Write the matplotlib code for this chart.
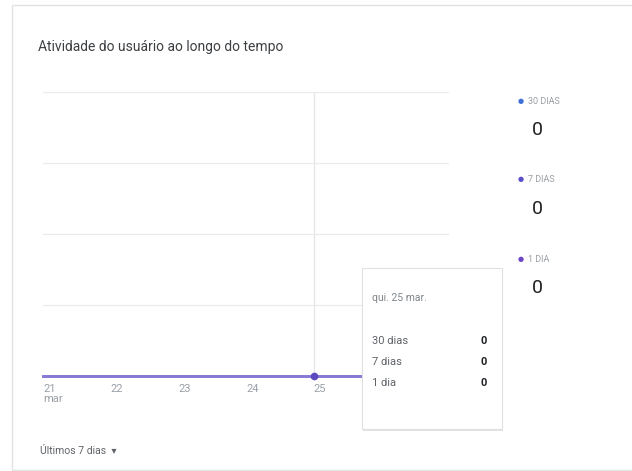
import matplotlib.pyplot as plt
from matplotlib.patches import Rectangle, FancyBboxPatch

# dados
dias = [21, 22, 23, 24, 25, 26, 27]
rotulos_x = ['21\nmar', '22', '23', '24', '25', '26', '27']
usuarios_30d = [0, 0, 0, 0, 0, 0, 0]
usuarios_7d = [0, 0, 0, 0, 0, 0, 0]
usuarios_1d = [0, 0, 0, 0, 0, 0, 0]
series = ['30 DIAS', '7 DIAS', '1 DIA']
cores = ['#3f6fd8', '#5a4fca', '#6c46c4']
dia_destaque = 25

plt.rcParams['font.family'] = ['Roboto', 'DejaVu Sans']

W, H = 632, 471
fig = plt.figure(figsize=(W / 100, H / 100), dpi=100)
fig.patch.set_facecolor('white')

def fx(px):
    return px / W

def fy(py):
    return 1 - py / H

# borda do card
fig.patches.append(Rectangle((fx(12), fy(470)), 1.2, fy(5) - fy(470),
                             transform=fig.transFigure, facecolor='none',
                             edgecolor='#e3e3e3', linewidth=1.0, zorder=0))

fig.text(fx(38), fy(47), 'Atividade do usuário ao longo do tempo',
         fontsize=10, color='#3c4043', va='center', ha='left')

# área do gráfico
ax = fig.add_axes([fx(43), fy(376), fx(449) - fx(43), fy(92) - fy(376)])
ax.set_facecolor('none')
ax.set_xlim(21, 27)
ax.set_ylim(0, 4)
for s in ax.spines.values():
    s.set_visible(False)
ax.set_yticks([1, 2, 3, 4])
ax.set_yticklabels([])
ax.tick_params(axis='y', length=0)
ax.grid(axis='y', color='#ebebeb', linewidth=0.9)
ax.set_xticks(dias)
ax.set_xticklabels(rotulos_x, fontsize=8, color='#9aa0a6', ha='left',
                   linespacing=0.9)
# 26 e 27 ficam escondidos atrás do tooltip
for lbl, d in zip(ax.get_xticklabels(), dias):
    if d > dia_destaque:
        lbl.set_visible(False)
ax.tick_params(axis='x', length=0, pad=6)
ax.axvline(dia_destaque, color='#e6e6e6', linewidth=0.9, zorder=1)

for vals, cor in zip([usuarios_30d, usuarios_7d, usuarios_1d], cores):
    ax.plot(dias, vals, color='#8a78d6', linewidth=1.8, clip_on=False, zorder=3)
i = dias.index(dia_destaque)
ax.plot([dia_destaque], [usuarios_1d[i]], 'o', color='#5b49c0', markersize=4.5,
        clip_on=False, zorder=4)

# legenda lateral
leg_y = [101, 180, 259]
for nome, cor, y, vals in zip(series, cores, leg_y,
                              [usuarios_30d, usuarios_7d, usuarios_1d]):
    fig.text(fx(521), fy(y), '●', color=cor, fontsize=5, ha='center', va='center')
    fig.text(fx(528), fy(y), nome, color='#9aa0a6', fontsize=6.5,
             ha='left', va='center')
    fig.text(fx(537), fy(y + 29), str(vals[i]), color='#202124', fontsize=14,
             ha='center', va='center')

# tooltip
sombra = FancyBboxPatch((fx(363), fy(431)), fx(140), fy(269) - fy(431),
                        boxstyle='square,pad=0', transform=fig.transFigure,
                        facecolor='#e4e4e4', edgecolor='none', zorder=5)
fig.patches.append(sombra)
caixa = FancyBboxPatch((fx(362), fy(429)), fx(140), fy(268) - fy(429),
                       boxstyle='square,pad=0', transform=fig.transFigure,
                       facecolor='white', edgecolor='#e0e0e0', linewidth=0.8,
                       zorder=6)
fig.patches.append(caixa)
fig.text(fx(372), fy(298), 'qui. 25 mar.', color='#80868b', fontsize=7.5,
         ha='left', va='center', zorder=7)
linhas_tt = ['30 dias', '7 dias', '1 dia']
for nome, y, vals in zip(linhas_tt, [341, 362, 383],
                         [usuarios_30d, usuarios_7d, usuarios_1d]):
    fig.text(fx(372), fy(y), nome, color='#5f6368', fontsize=8,
             ha='left', va='center', zorder=7)
    fig.text(fx(484), fy(y), str(vals[i]), color='#202124', fontsize=8,
             fontweight='bold', ha='center', va='center', zorder=7)

fig.text(fx(40), fy(451), 'Últimos 7 dias  ▾', color='#5f6368', fontsize=7.5,
         ha='left', va='center')

fig.savefig('out.png', dpi=100, facecolor='white')
